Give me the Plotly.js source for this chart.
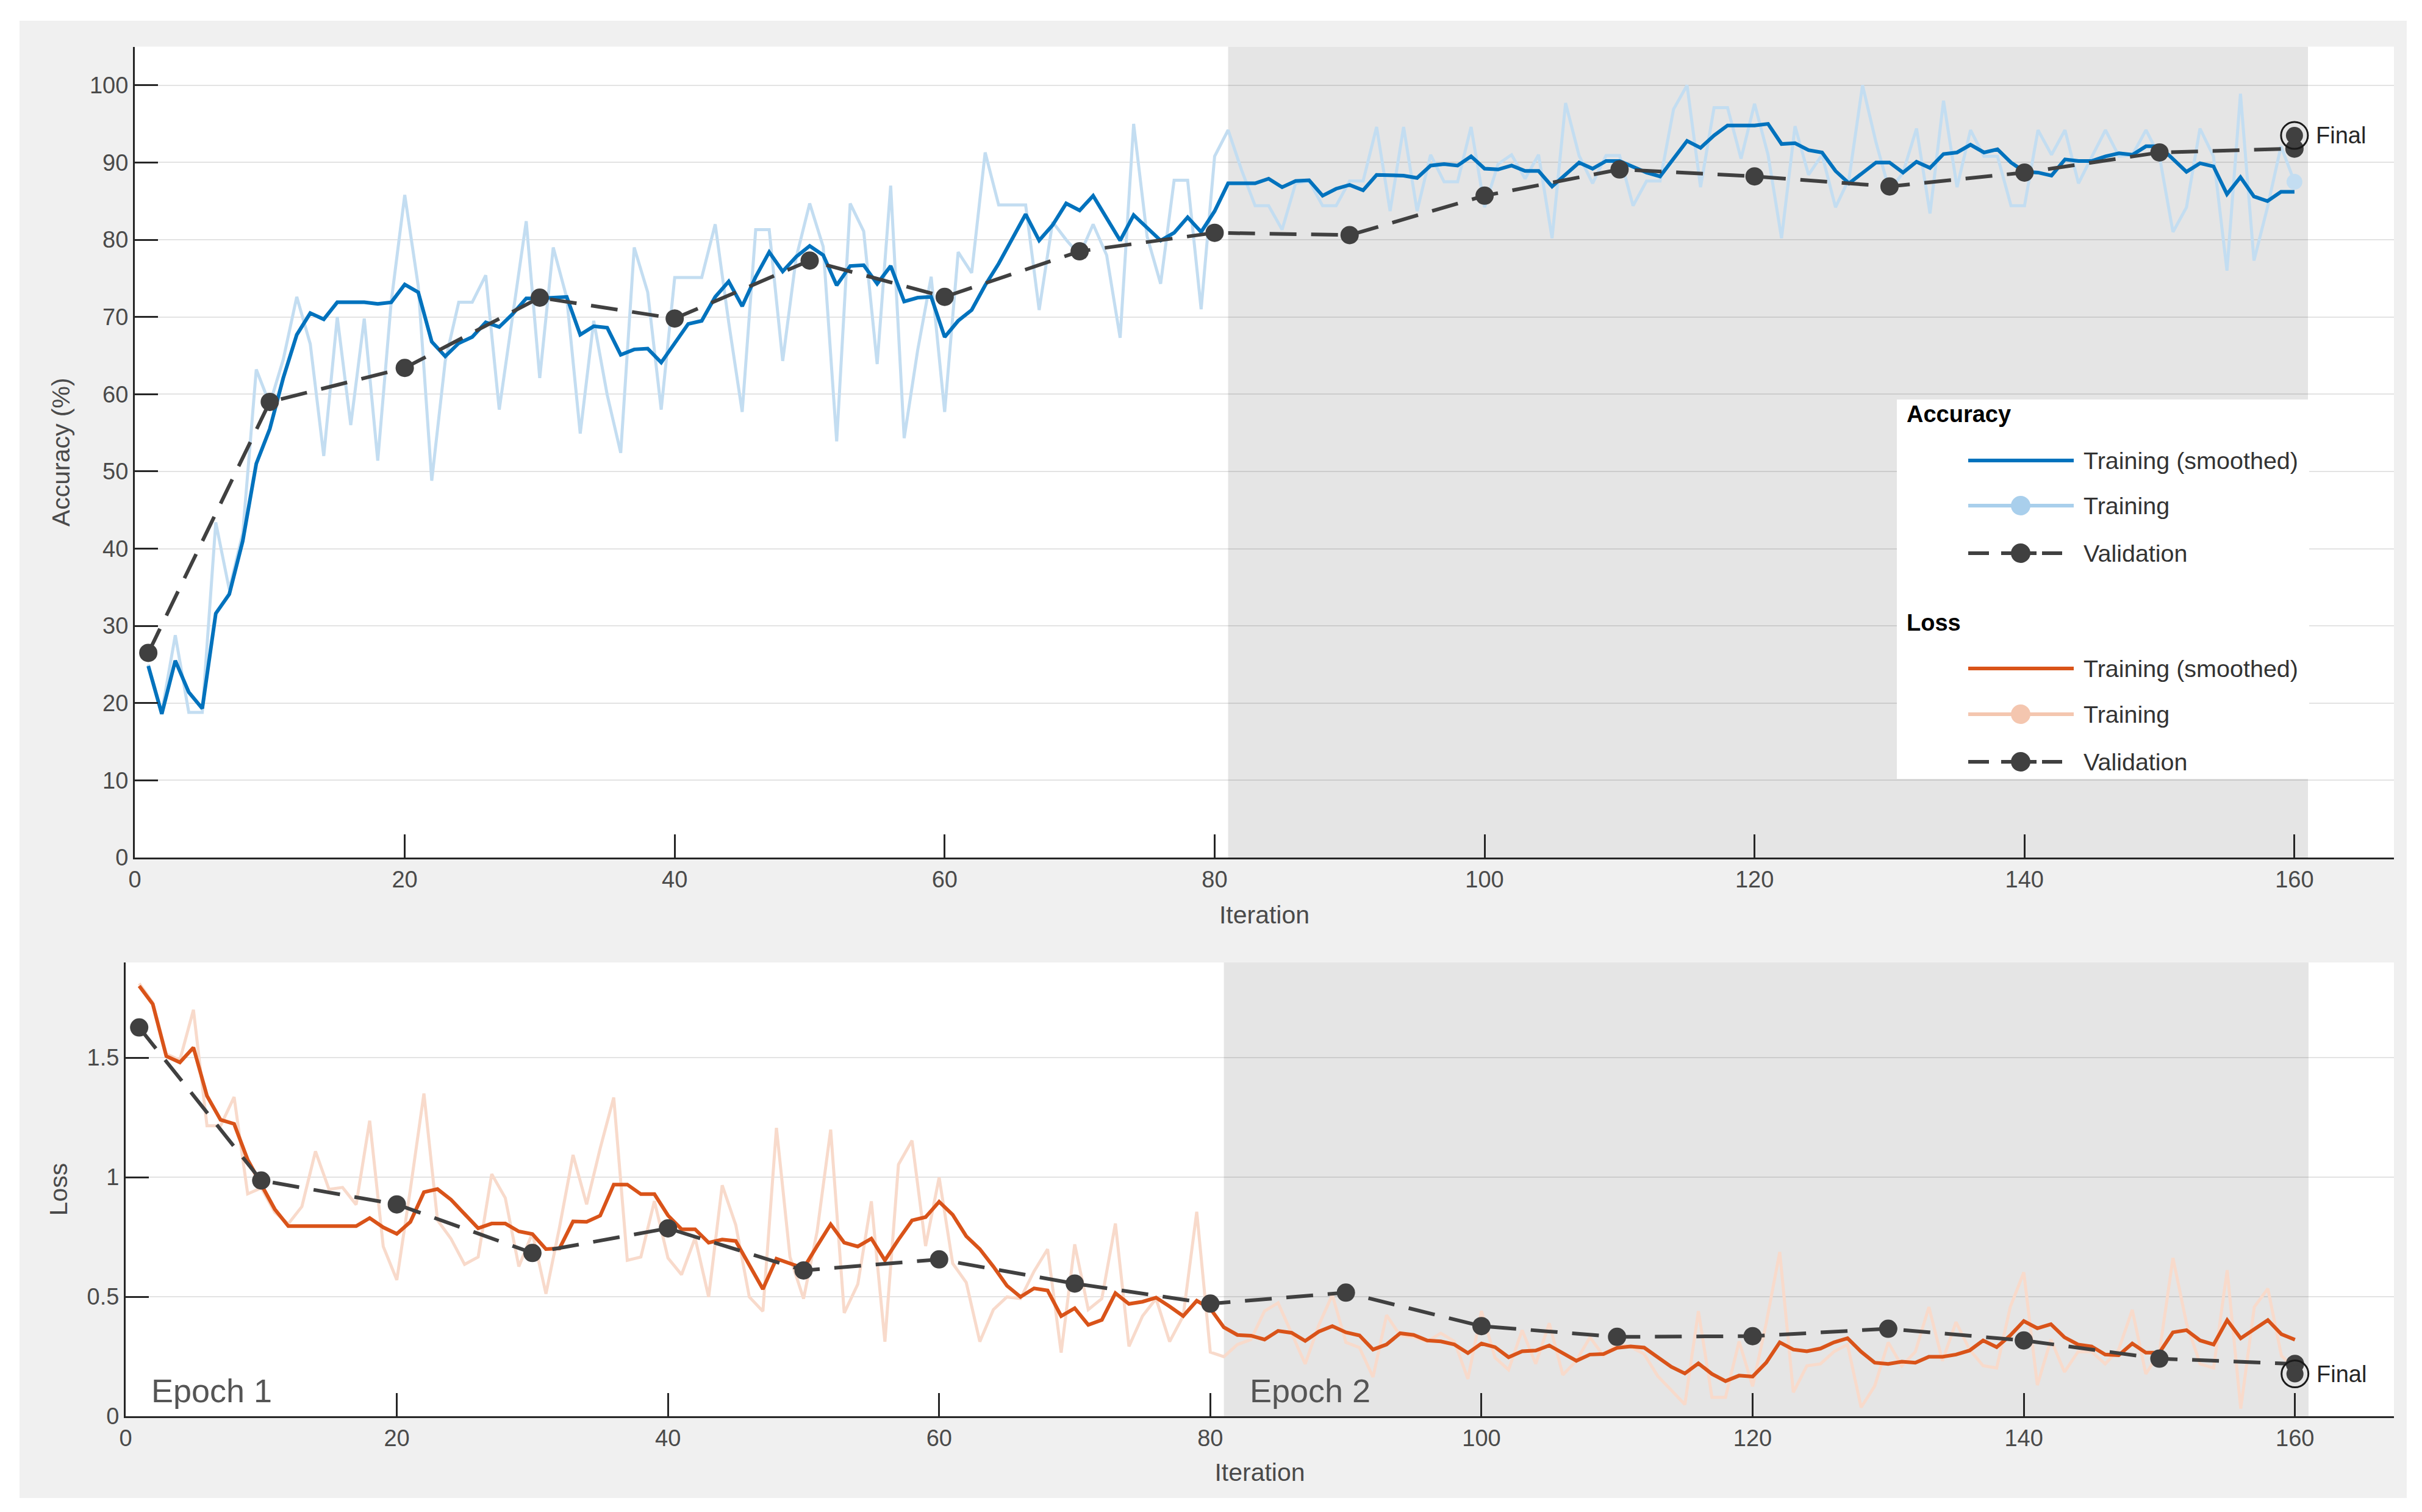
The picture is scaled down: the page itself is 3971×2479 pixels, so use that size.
<!DOCTYPE html>
<html>
<head>
<meta charset="utf-8">
<script src="https://cdn.plot.ly/plotly-3.0.1.min.js"></script>
<style>
  html, body { margin: 0; padding: 0; background: #ffffff; width: 3971px; height: 2479px; overflow: hidden; }
  #chart { position: absolute; left: 32px; top: 34px; width: 3914px; height: 2422px; }
</style>
</head>
<body>
<div id="chart"></div>
<script>
// ---------------- DATA ----------------
const iterations = Array.from({length: 160}, (_, k) => k + 1);

const accTrainRaw = [
  25.0, 18.8, 28.8, 18.8, 18.8, 43.4, 34.7, 42.0, 63.2, 58.7,
  64.5, 72.6, 66.5, 52.0, 70.0, 56.0, 69.8, 51.4, 72.0, 85.8,
  74.0, 48.8, 64.3, 71.9, 71.9, 75.4, 58.0, 70.5, 82.4, 62.1,
  79.0, 72.5, 54.9, 69.5, 59.9, 52.4, 79.0, 73.2, 58.0, 75.1,
  75.1, 75.1, 82.0, 69.3, 57.7, 81.3, 81.3, 64.3, 77.7, 84.7,
  79.1, 53.9, 84.7, 81.1, 63.9, 87.0, 54.3, 65.7, 75.2, 57.7,
  78.4, 75.7, 91.3, 84.5, 84.5, 84.5, 70.9, 82.3, 80.0, 78.0,
  82.0, 78.0, 67.3, 95.0, 80.4, 74.3, 87.7, 87.7, 71.0, 90.8,
  94.2, 89.0, 84.4, 84.4, 81.3, 87.3, 87.6, 84.4, 84.4, 87.6,
  87.6, 94.6, 83.7, 94.6, 83.7, 91.0, 87.5, 87.5, 94.6, 84.2,
  89.8, 91.0, 87.9, 91.0, 80.2, 97.7, 90.9, 87.3, 90.9, 90.9,
  84.4, 87.6, 87.6, 96.9, 100.0, 86.8, 97.1, 97.1, 90.5, 97.6,
  91.0, 80.2, 94.7, 88.4, 91.0, 84.2, 87.9, 100.0, 92.6, 86.3,
  88.7, 94.4, 83.4, 98.0, 86.8, 94.2, 90.8, 90.8, 84.4, 84.4,
  94.2, 91.0, 94.2, 87.3, 90.8, 94.2, 90.8, 91.0, 94.2, 90.8,
  81.0, 84.2, 94.4, 90.8, 76.0, 98.9, 77.3, 84.2, 92.1, 87.5
];

const accTrainSmoothed = [
  24.8, 18.6, 25.5, 21.4, 19.3, 31.6, 34.1, 41.0, 51.0, 55.5,
  62.1, 67.7, 70.5, 69.7, 71.9, 71.9, 71.9, 71.7, 71.9, 74.2,
  73.2, 66.8, 64.9, 66.6, 67.4, 69.3, 68.7, 70.4, 72.4, 72.4,
  72.5, 72.6, 67.7, 68.8, 68.6, 65.1, 65.8, 65.9, 64.1, 66.6,
  69.1, 69.5, 72.6, 74.6, 71.4, 75.2, 78.4, 75.9, 77.8, 79.2,
  78.0, 74.1, 76.6, 76.7, 74.3, 76.6, 72.0, 72.5, 72.6, 67.4,
  69.5, 70.9, 74.1, 76.9, 80.2, 83.3, 79.9, 81.9, 84.7, 83.8,
  85.7, 82.9, 79.9, 83.2, 81.6, 79.9, 80.9, 82.9, 81.0, 83.7,
  87.3, 87.3, 87.3, 87.9, 86.8, 87.6, 87.7, 85.7, 86.6, 87.1,
  86.4, 88.4, 88.3, 88.3, 88.0, 89.6, 89.8, 89.6, 90.8, 89.2,
  89.1, 89.6, 88.9, 88.9, 86.9, 88.5, 90.0, 89.2, 90.2, 90.2,
  89.4, 88.7, 88.2, 90.5, 92.8, 91.9, 93.5, 94.8, 94.8, 94.8,
  95.0, 92.4, 92.5, 91.6, 91.3, 88.9, 87.3, 88.7, 90.0, 90.0,
  88.7, 90.1, 89.3, 91.1, 91.3, 92.3, 91.3, 91.7, 90.0, 88.8,
  88.7, 88.3, 90.4, 90.2, 90.2, 90.8, 91.2, 91.0, 92.1, 92.1,
  90.5, 88.8, 89.9, 89.5, 85.9, 88.1, 85.6, 85.0, 86.2, 86.2
];

const validationIterations = [1, 10, 20, 30, 40, 50, 60, 70, 80, 90, 100, 110, 120, 130, 140, 150, 160];
const accValidation = [26.5, 59.0, 63.4, 72.5, 69.8, 77.3, 72.6, 78.5, 80.9, 80.6, 85.7, 89.1, 88.2, 86.9, 88.7, 91.3, 91.8];
const accFinal = 93.5;

const lossTrainRaw = [
  1.81, 1.73, 1.515, 1.49, 1.70, 1.215, 1.215, 1.335, 0.93, 0.955,
  0.853, 0.805, 0.877, 1.108, 0.949, 0.957, 0.885, 1.236, 0.71, 0.57,
  0.949, 1.35, 0.82, 0.742, 0.635, 0.666, 1.013, 0.913, 0.626, 0.766,
  0.512, 0.79, 1.093, 0.886, 1.12, 1.333, 0.652, 0.666, 0.90, 0.662,
  0.592, 0.746, 0.499, 0.966, 0.80, 0.499, 0.439, 1.206, 0.666, 0.492,
  0.773, 1.199, 0.432, 0.552, 0.899, 0.312, 1.053, 1.153, 0.712, 0.999,
  0.639, 0.559, 0.312, 0.446, 0.499, 0.492, 0.606, 0.699, 0.266, 0.719,
  0.446, 0.492, 0.806, 0.292, 0.419, 0.492, 0.312, 0.419, 0.855, 0.268,
  0.249, 0.30, 0.321, 0.44, 0.474, 0.347, 0.219, 0.381, 0.508, 0.309,
  0.287, 0.164, 0.423, 0.338, 0.33, 0.313, 0.347, 0.313, 0.156, 0.44,
  0.245, 0.194, 0.36, 0.219, 0.389, 0.173, 0.232, 0.33, 0.253, 0.304,
  0.29, 0.26, 0.168, 0.109, 0.049, 0.44, 0.079, 0.079, 0.313, 0.125,
  0.389, 0.687, 0.10, 0.211, 0.219, 0.27, 0.30, 0.037, 0.126, 0.309,
  0.211, 0.27, 0.457, 0.232, 0.394, 0.279, 0.211, 0.202, 0.457, 0.602,
  0.130, 0.321, 0.185, 0.27, 0.27, 0.219, 0.279, 0.445, 0.177, 0.266,
  0.662, 0.389, 0.219, 0.202, 0.611, 0.032, 0.457, 0.534, 0.253, 0.20
];

const lossTrainSmoothed = [
  1.80, 1.724, 1.506, 1.480, 1.542, 1.340, 1.240, 1.223, 1.073, 0.966,
  0.866, 0.795, 0.795, 0.795, 0.795, 0.795, 0.795, 0.829, 0.790, 0.763,
  0.813, 0.937, 0.950, 0.906, 0.846, 0.786, 0.806, 0.806, 0.773, 0.762,
  0.699, 0.702, 0.815, 0.813, 0.839, 0.969, 0.969, 0.929, 0.929, 0.84,
  0.782, 0.782, 0.726, 0.739, 0.733, 0.632, 0.532, 0.659, 0.639, 0.619,
  0.712, 0.803, 0.726, 0.710, 0.743, 0.652, 0.739, 0.819, 0.833, 0.897,
  0.843, 0.753, 0.699, 0.626, 0.546, 0.499, 0.535, 0.526, 0.419, 0.452,
  0.382, 0.403, 0.515, 0.470, 0.479, 0.496, 0.459, 0.419, 0.483, 0.45,
  0.372, 0.340, 0.337, 0.321, 0.357, 0.349, 0.315, 0.354, 0.377, 0.351,
  0.338, 0.279, 0.300, 0.347, 0.340, 0.317, 0.313, 0.300, 0.264, 0.304,
  0.289, 0.247, 0.272, 0.275, 0.296, 0.266, 0.232, 0.258, 0.260, 0.286,
  0.292, 0.287, 0.249, 0.207, 0.179, 0.221, 0.177, 0.147, 0.170, 0.166,
  0.224, 0.309, 0.279, 0.272, 0.283, 0.309, 0.326, 0.270, 0.224, 0.219,
  0.228, 0.224, 0.249, 0.249, 0.258, 0.275, 0.317, 0.289, 0.338, 0.398,
  0.368, 0.385, 0.330, 0.300, 0.292, 0.258, 0.255, 0.304, 0.266, 0.266,
  0.351, 0.360, 0.317, 0.300, 0.402, 0.326, 0.364, 0.402, 0.343, 0.320
];

const lossValidation = [1.626, 0.986, 0.886, 0.683, 0.786, 0.610, 0.656, 0.555, 0.471, 0.517, 0.377, 0.332, 0.335, 0.366, 0.317, 0.241, 0.219];
const lossFinal = 0.177;

const epochLabels = ['Epoch 1', 'Epoch 2'];
const epochRegionStart = [0, 81];
const epochRegionEnd = [81, 161];

const xTickVals = [0, 20, 40, 60, 80, 100, 120, 140, 160];
const accTickVals = [0, 10, 20, 30, 40, 50, 60, 70, 80, 90, 100];
const lossTickVals = [0, 0.5, 1, 1.5];
const lossTickText = ['0', '0.5', '1', '1.5'];

// ---------------- STYLE / LAYOUT ----------------
const W = 3914, H = 2422, OX = 32, OY = 34;
const px = X => (X - OX) / W;
const py = Y => 1 - (Y - OY) / H;

const BLUE = '#0072BD', LBLUE_LINE = '#C3DDF1', LBLUE = '#A9CFEC';
const ORANGE = '#D95319', LORANGE_LINE = '#F8DACB', LORANGE = '#F4C6AF';
const DARK = '#404040';
const FONT = 'Liberation Sans, Arial, Helvetica, sans-serif';
const VALDASH = '44px,24px';

const last = a => a[a.length - 1];

const traces = [];
function addPanel(xa, ya, raw, smooth, val, fin, lightColor, mainColor) {
  traces.push({x: iterations, y: raw, xaxis: xa, yaxis: ya, type: 'scatter', mode: 'lines',
    line: {color: lightColor, width: 5}, hoverinfo: 'skip', showlegend: false});
  traces.push({x: iterations, y: smooth, xaxis: xa, yaxis: ya, type: 'scatter', mode: 'lines',
    line: {color: mainColor, width: 6}, hoverinfo: 'skip', showlegend: false});
  traces.push({x: validationIterations, y: val, xaxis: xa, yaxis: ya, type: 'scatter', mode: 'lines+markers',
    line: {color: DARK, width: 6, dash: VALDASH}, marker: {color: DARK, size: 30},
    hoverinfo: 'skip', showlegend: false});
  traces.push({x: [last(validationIterations)], y: [fin], xaxis: xa, yaxis: ya, type: 'scatter', mode: 'markers',
    marker: {color: DARK, size: 28}, hoverinfo: 'skip', showlegend: false});
  traces.push({x: [last(validationIterations)], y: [fin], xaxis: xa, yaxis: ya, type: 'scatter', mode: 'markers',
    marker: {symbol: 'circle-open', color: '#1a1a1a', size: 44, line: {width: 3, color: '#1a1a1a'}},
    hoverinfo: 'skip', showlegend: false});
}
addPanel('x', 'y', accTrainRaw, accTrainSmoothed, accValidation, accFinal, LBLUE_LINE, BLUE);
// last raw training accuracy point marker
traces.splice(1, 0, {x: [last(iterations)], y: [last(accTrainRaw)], xaxis: 'x', yaxis: 'y', type: 'scatter',
  mode: 'markers', marker: {color: LBLUE_LINE, size: 26}, hoverinfo: 'skip', showlegend: false});
addPanel('x2', 'y2', lossTrainRaw, lossTrainSmoothed, lossValidation, lossFinal, LORANGE_LINE, ORANGE);

const tickFont = {family: FONT, size: 38, color: '#4a4a4a'};
const titleFont = {family: FONT, size: 41, color: '#4a4a4a'};
const axisCommon = {
  showline: true, linecolor: '#262626', linewidth: 3,
  ticks: 'inside', ticklen: 38, tickwidth: 3, tickcolor: '#262626',
  zeroline: false, tickfont: tickFont, mirror: false, fixedrange: true
};

const shapes = [];
const annotations = [];

// epoch shading and labels
['x', 'x2'].forEach((xa, p) => {
  const ya = p === 0 ? 'y' : 'y2';
  for (let k = 0; k < epochLabels.length; k++) {
    if (k % 2 === 1) {
      shapes.push({type: 'rect', xref: xa, yref: ya + ' domain', x0: epochRegionStart[k], x1: epochRegionEnd[k],
        y0: 0, y1: 1, fillcolor: '#e5e5e5', line: {width: 0}, layer: 'below'});
    }
  }
});
for (let k = 0; k < epochLabels.length; k++) {
  annotations.push({xref: 'x2', yref: 'y2 domain', x: epochRegionStart[k], y: 0.0565, xanchor: 'left', yanchor: 'middle',
    xshift: 40, text: epochLabels[k], showarrow: false, font: {family: FONT, size: 54, color: '#555555'}});
}

// Final labels
annotations.push({xref: 'x', yref: 'y', x: last(validationIterations), y: accFinal, xanchor: 'left', yanchor: 'middle',
  xshift: 33, text: 'Final', showarrow: false, font: {family: FONT, size: 38, color: '#262626'}});
annotations.push({xref: 'x2', yref: 'y2', x: last(validationIterations), y: lossFinal, xanchor: 'left', yanchor: 'middle',
  xshift: 33, text: 'Final', showarrow: false, font: {family: FONT, size: 38, color: '#262626'}});

// ----- custom legend -----
shapes.push({type: 'rect', xref: 'paper', yref: 'paper', x0: px(3110), x1: px(3786), y0: py(1277), y1: py(655),
  fillcolor: '#ffffff', line: {width: 0}, layer: 'above'});
const legHeaders = [{text: 'Accuracy', y: 679}, {text: 'Loss', y: 1021}];
legHeaders.forEach(h => annotations.push({xref: 'paper', yref: 'paper', x: px(3124), y: py(h.y), xanchor: 'left',
  yanchor: 'middle', text: '<b>' + h.text + '</b>', showarrow: false, font: {family: FONT, size: 38, color: '#000000'}}));
const legRows = [
  {y: 755, text: 'Training (smoothed)', color: BLUE, marker: false, dash: 'solid'},
  {y: 829, text: 'Training', color: LBLUE, marker: true, dash: 'solid'},
  {y: 907, text: 'Validation', color: DARK, marker: true, dash: '34px,20px,58px,9px,33px,22px,4px,100px'},
  {y: 1096, text: 'Training (smoothed)', color: ORANGE, marker: false, dash: 'solid'},
  {y: 1171, text: 'Training', color: LORANGE, marker: true, dash: 'solid'},
  {y: 1249, text: 'Validation', color: DARK, marker: true, dash: '34px,20px,58px,9px,33px,22px,4px,100px'}
];
legRows.forEach(r => {
  shapes.push({type: 'line', xref: 'paper', yref: 'paper', x0: px(3227), x1: px(3400), y0: py(r.y), y1: py(r.y),
    line: {color: r.color, width: 6, dash: r.dash}, layer: 'above'});
  if (r.marker) {
    shapes.push({type: 'circle', xref: 'paper', yref: 'paper', x0: px(3313 - 16), x1: px(3313 + 16),
      y0: py(r.y + 16), y1: py(r.y - 16), fillcolor: r.color, line: {width: 0}, layer: 'above'});
  }
  annotations.push({xref: 'paper', yref: 'paper', x: px(3414), y: py(r.y), xanchor: 'left', yanchor: 'middle',
    text: r.text, showarrow: false, font: {family: FONT, size: 39.5, color: '#333333'}});
});

const layout = {
  width: W, height: H,
  margin: {l: 0, r: 0, t: 0, b: 0, pad: 0},
  paper_bgcolor: '#f0f0f0', plot_bgcolor: '#ffffff',
  showlegend: false,
  font: {family: FONT, color: '#404040'},
  xaxis: Object.assign({}, axisCommon, {domain: [px(221), px(3925)], range: [0, 167.37], anchor: 'y',
    tickvals: xTickVals, showgrid: false,
    title: {text: 'Iteration', font: titleFont, standoff: 24}}),
  yaxis: Object.assign({}, axisCommon, {domain: [py(1406), py(76.5)], range: [0, 105], anchor: 'x',
    tickvals: accTickVals, showgrid: true, gridcolor: 'rgba(38,38,38,0.13)', gridwidth: 2,
    title: {text: 'Accuracy (%)', font: titleFont, standoff: 20}}),
  xaxis2: Object.assign({}, axisCommon, {domain: [px(206), px(3925)], range: [0, 167.3], anchor: 'y2',
    tickvals: xTickVals, showgrid: false,
    title: {text: 'Iteration', font: titleFont, standoff: 22}}),
  yaxis2: Object.assign({}, axisCommon, {domain: [py(2322), py(1578)], range: [0, 1.898], anchor: 'x2',
    tickvals: lossTickVals, ticktext: lossTickText, showgrid: true, gridcolor: 'rgba(38,38,38,0.13)', gridwidth: 2,
    title: {text: 'Loss', font: titleFont, standoff: 20}}),
  shapes: shapes,
  annotations: annotations
};

Plotly.newPlot('chart', traces, layout, {staticPlot: true, displayModeBar: false});
</script>
</body>
</html>
